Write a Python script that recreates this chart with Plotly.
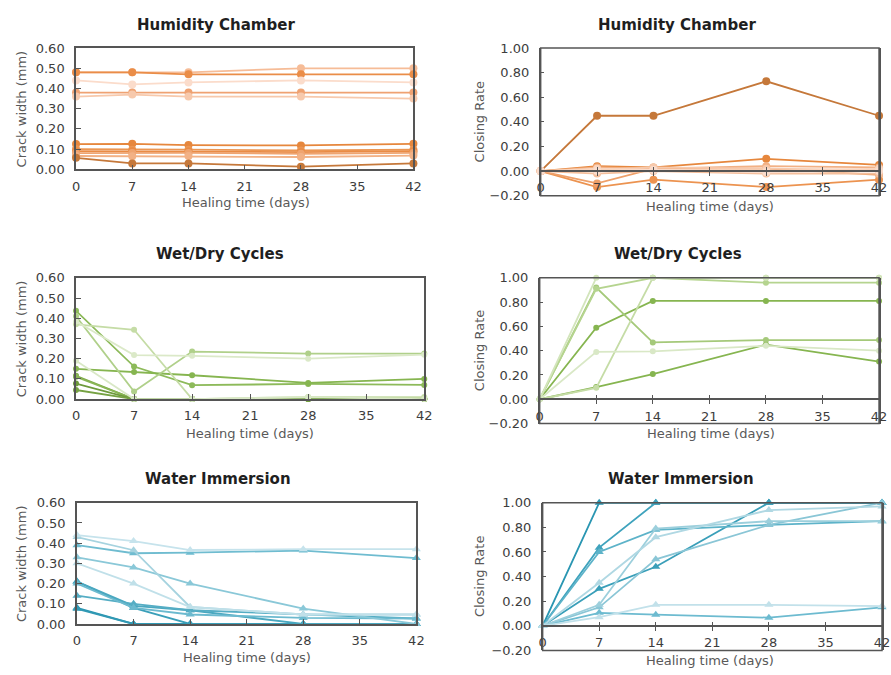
import plotly.graph_objects as go

# ---------------- data ----------------
days = [0, 7, 14, 28, 42]
x_tick_vals = [0, 7, 14, 21, 28, 35, 42]

panel_titles = ["Humidity Chamber", "Humidity Chamber", "Wet/Dry Cycles",
                "Wet/Dry Cycles", "Water Immersion", "Water Immersion"]
x_title = "Healing time (days)"
width_title = "Crack width (mm)"
rate_title = "Closing Rate"

# Humidity chamber - crack width (mm)
hum_width = [
    [0.48, 0.48, 0.48, 0.50, 0.50],
    [0.48, 0.48, 0.47, 0.47, 0.47],
    [0.44, 0.42, 0.43, 0.44, 0.43],
    [0.38, 0.38, 0.38, 0.38, 0.38],
    [0.36, 0.37, 0.36, 0.36, 0.35],
    [0.125, 0.126, 0.12, 0.118, 0.126],
    [0.10, 0.097, 0.097, 0.093, 0.097],
    [0.09, 0.09, 0.088, 0.085, 0.09],
    [0.08, 0.081, 0.081, 0.077, 0.081],
    [0.066, 0.065, 0.066, 0.061, 0.068],
    [0.057, 0.029, 0.029, 0.013, 0.029],
]
hum_width_colors = ["#f6bc97", "#ea8d48", "#fbdccb", "#efa272", "#f7c9ac",
                    "#e6873d", "#eb9653", "#e98b45", "#efa470", "#f2b185", "#c5783a"]

# Humidity chamber - closing rate
hum_rate = [
    [0, 0.45, 0.45, 0.73, 0.45],
    [0, 0.04, 0.03, 0.10, 0.05],
    [0, -0.13, -0.07, -0.13, -0.07],
    [0, -0.10, 0.02, 0.02, -0.03],
    [0, 0.03, 0.02, 0.04, 0.03],
    [0, -0.02, 0.00, -0.02, -0.02],
    [0, 0.01, 0.03, 0.02, 0.01],
    [0, 0.02, 0.01, 0.00, 0.02],
    [0, 0.00, 0.01, -0.01, 0.00],
]
hum_rate_colors = ["#c5783a", "#e6873d", "#ec9350", "#eea06a", "#f2b185",
                   "#f5bf9c", "#f7c9ac", "#f9d5bf", "#fadccc"]

# Wet/dry cycles - crack width (mm)
wd_width = [
    [0.115, 0.0, 0.0, 0.0, 0.0],
    [0.11, 0.0, 0.0, 0.0, 0.0],
    [0.077, 0.0, 0.0, 0.0, 0.0],
    [0.045, 0.0, 0.0, 0.0, 0.0],
    [0.437, 0.161, 0.069, 0.075, 0.07],
    [0.15, 0.134, 0.118, 0.08, 0.10],
    [0.41, 0.037, 0.235, 0.225, 0.225],
    [0.37, 0.343, 0.0, 0.01, 0.01],
    [0.19, 0.0, 0.0, 0.01, 0.0],
    [0.384, 0.218, 0.214, 0.20, 0.22],
]
wd_width_colors = ["#7fab4a", "#8ab656", "#6e9a3c", "#76a243", "#8dba5a",
                   "#86b550", "#b0d08a", "#c5dca6", "#d9e8c6", "#dbe9c8"]

# Wet/dry cycles - closing rate
wd_rate = [
    [0, 0.10, 0.207, 0.45, 0.31],
    [0, 0.589, 0.81, 0.81, 0.81],
    [0, 0.92, 0.468, 0.487, 0.487],
    [0, 0.91, 1.0, 0.96, 0.96],
    [0, 0.094, 1.0, 1.0, 1.0],
    [0, 0.39, 0.395, 0.44, 0.40],
    [0, 1.0, 1.0, 1.0, 1.0],
]
wd_rate_colors = ["#86b550", "#86b550", "#a5c97a", "#b5d48f", "#c5dca6",
                  "#d9e8c6", "#d3e5bc"]

# Water immersion - crack width (mm)
wi_width = [
    [0.08, 0.0, 0.0, 0.0, 0.0],
    [0.075, 0.0, 0.0, 0.0, 0.0],
    [0.21, 0.08, 0.0, 0.0, 0.0],
    [0.21, 0.09, 0.068, 0.0, 0.0],
    [0.14, 0.10, 0.068, 0.047, 0.027],
    [0.20, 0.08, 0.047, 0.03, 0.027],
    [0.39, 0.35, 0.353, 0.363, 0.326],
    [0.33, 0.28, 0.20, 0.076, 0.0],
    [0.43, 0.365, 0.084, 0.047, 0.047],
    [0.30, 0.20, 0.084, 0.047, 0.047],
    [0.44, 0.41, 0.366, 0.37, 0.37],
]
wi_width_colors = ["#2a96b2", "#3199b4", "#3a9fb9", "#4aa8c0", "#55adc4",
                   "#6cbacf", "#6fbcd0", "#8ac8d8", "#a6d3df", "#c0e0e9", "#c6e3ec"]

# Water immersion - closing rate
wi_rate = [
    [0, 1.0, 1.0, 1.0, 1.0],
    [0, 0.635, 1.0, 1.0, 1.0],
    [0, 0.30, 0.48, 1.0, 1.0],
    [0, 0.60, 0.78, 0.82, 0.85],
    [0, 0.105, 0.09, 0.066, 0.15],
    [0, 0.15, 0.54, 0.82, 1.0],
    [0, 0.17, 0.79, 0.85, 0.85],
    [0, 0.35, 0.72, 0.94, 0.97],
    [0, 0.07, 0.17, 0.17, 0.16],
]
wi_rate_colors = ["#2a96b2", "#3fa3bd", "#3a9fb9", "#5db3c9", "#6dbbd0",
                  "#8ac6d6", "#9ccfdc", "#b0d8e3", "#c2e1ea"]

# ---------------- layout helpers ----------------
W, H = 891, 675
FONT = "DejaVu Sans"
AXIS_COLOR = "#555555"
TEXT_COLOR = "#3d3d3d"


def fx(p):
    return p / W


def fy(p):
    return 1 - p / H


panels = [
    dict(data=hum_width, colors=hum_width_colors, symbol="circle", size=8, rate=False,
         box=(73, 415, 42, 166), title_xy=(215, 18), xt=(245, 200), yt=(18,)),
    dict(data=hum_rate, colors=hum_rate_colors, symbol="circle", size=8, rate=True,
         box=(544, 887, 42, 193), title_xy=(682, 18), xt=(716, 204), yt=(482,)),
    dict(data=wd_width, colors=wd_width_colors, symbol="circle", size=6, rate=False,
         box=(73, 426, 277, 401), title_xy=(219, 253), xt=(249, 436), yt=(18,)),
    dict(data=wd_rate, colors=wd_rate_colors, symbol="circle", size=6, rate=True,
         box=(543, 887, 277, 426), title_xy=(683, 253), xt=(717, 436), yt=(482,)),
    dict(data=wi_width, colors=wi_width_colors, symbol="triangle-up", size=8, rate=False,
         box=(74, 418, 507, 631), title_xy=(217, 483), xt=(246, 665), yt=(18,)),
    dict(data=wi_rate, colors=wi_rate_colors, symbol="triangle-up", size=8, rate=True,
         box=(546, 890, 507, 658), title_xy=(686, 483), xt=(716, 668), yt=(482,)),
]

fig = go.Figure()
layout = dict(
    width=W, height=H,
    margin=dict(l=0, r=0, t=0, b=0),
    paper_bgcolor="white", plot_bgcolor="white",
    showlegend=False,
    font=dict(family=FONT, size=13, color=TEXT_COLOR),
    annotations=[], shapes=[],
)

for i, p in enumerate(panels, start=1):
    xn = "x" if i == 1 else f"x{i}"
    yn = "y" if i == 1 else f"y{i}"
    xk = "xaxis" if i == 1 else f"xaxis{i}"
    yk = "yaxis" if i == 1 else f"yaxis{i}"
    x0, x1, y0, y1 = p["box"]
    xdom = [fx(x0), fx(x1)]
    ydom = [fy(y1), fy(y0)]

    for series, col in zip(p["data"], p["colors"]):
        fig.add_trace(go.Scatter(
            x=days, y=series, xaxis=xn, yaxis=yn, mode="lines+markers",
            line=dict(color=col, width=1.8),
            marker=dict(color=col, size=p["size"], symbol=p["symbol"]),
            cliponaxis=False, hoverinfo="skip",
        ))

    if not p["rate"]:
        layout[xk] = dict(domain=xdom, anchor=yn, range=[0, 42], tickvals=x_tick_vals,
                          ticks="inside", ticklen=5, tickcolor=AXIS_COLOR,
                          showline=True, mirror=True, linecolor=AXIS_COLOR, linewidth=1.5,
                          showgrid=False, zeroline=False, ticklabelstandoff=4,
                          tickfont=dict(size=13, color=TEXT_COLOR))
        layout[yk] = dict(domain=ydom, anchor=xn, range=[0, 0.6], dtick=0.1,
                          tickformat=".2f", ticks="inside", ticklen=5, tickcolor=AXIS_COLOR,
                          showline=True, mirror=True, linecolor=AXIS_COLOR, linewidth=1.5,
                          showgrid=False, zeroline=False, ticklabelstandoff=7,
                          tickfont=dict(size=13, color=TEXT_COLOR))
        ytitle = width_title
    else:
        yr = [-0.2, 1.0]
        zero_px = y1 - (0 - yr[0]) / (yr[1] - yr[0]) * (y1 - y0)
        pos = fy(zero_px)
        layout[xk] = dict(domain=xdom, anchor="free", position=pos, range=[0, 42],
                          tickvals=x_tick_vals, ticks="outside", ticklen=4,
                          tickcolor=AXIS_COLOR, showline=True, linecolor=AXIS_COLOR,
                          linewidth=1.5, showgrid=False, zeroline=False,
                          ticklabelstandoff=1, tickfont=dict(size=13, color=TEXT_COLOR))
        # overlay axis for the inner half of the crossing tick marks
        oi = i + 6
        ok = f"xaxis{oi}"
        layout[ok] = dict(domain=xdom, anchor="free", position=pos, overlaying=xn,
                          range=[0, 42], tickvals=x_tick_vals, ticks="inside", ticklen=4,
                          tickcolor=AXIS_COLOR, showticklabels=False, showline=False,
                          showgrid=False, zeroline=False)
        fig.add_trace(go.Scatter(x=[], y=[], xaxis=f"x{oi}", yaxis=yn, mode="lines",
                                 hoverinfo="skip"))
        layout[yk] = dict(domain=ydom, anchor=xn, range=yr, dtick=0.2,
                          tickformat=".2f", ticks="inside", ticklen=4, tickcolor=AXIS_COLOR,
                          showline=True, mirror=True, linecolor=AXIS_COLOR, linewidth=1.5,
                          showgrid=False, zeroline=False, ticklabelstandoff=7,
                          tickfont=dict(size=13, color=TEXT_COLOR))
        layout["shapes"].append(dict(type="rect", xref=f"{xn} domain", yref=f"{yn} domain",
                                     x0=0, x1=1, y0=0, y1=1,
                                     line=dict(color=AXIS_COLOR, width=1.5), layer="above"))
        ytitle = rate_title

    tx, ty = p["title_xy"]
    layout["annotations"].append(dict(
        text=f"<b>{panel_titles[i - 1]}</b>", x=fx(tx), y=fy(ty), xref="paper", yref="paper",
        xanchor="center", yanchor="middle", showarrow=False,
        font=dict(family=FONT, size=15, color="#1f1f1f")))
    ax, ay = p["xt"]
    layout["annotations"].append(dict(
        text=x_title, x=fx(ax), y=fy(ay), xref="paper", yref="paper",
        xanchor="center", yanchor="middle", showarrow=False,
        font=dict(family=FONT, size=13, color="#595959")))
    layout["annotations"].append(dict(
        text=ytitle, x=fx(p["yt"][0]), y=fy((y0 + y1) / 2), xref="paper", yref="paper",
        xanchor="center", yanchor="middle", showarrow=False, textangle=-90,
        font=dict(family=FONT, size=13, color="#595959")))

fig.update_layout(**layout)
fig.write_html("out.html")
